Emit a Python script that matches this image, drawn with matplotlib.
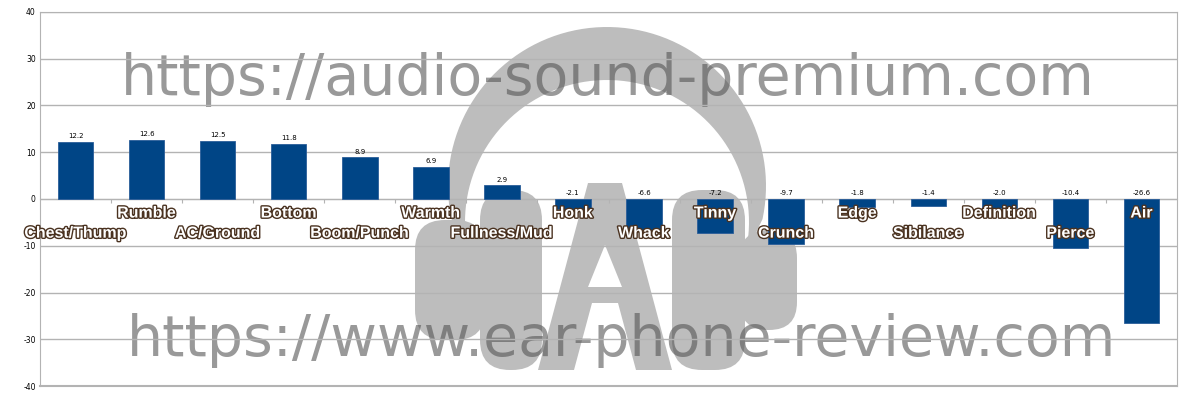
import numpy as np
import matplotlib
matplotlib.use("Agg")
import matplotlib.pyplot as plt
import matplotlib.patheffects as pe
from matplotlib.patches import FancyBboxPatch, Polygon, PathPatch
from matplotlib.path import Path

categories = ["Chest/Thump", "Rumble", "AC/Ground", "Bottom", "Boom/Punch",
              "Warmth", "Fullness/Mud", "Honk", "Whack", "Tinny", "Crunch",
              "Edge", "Sibilance", "Definition", "Pierce", "Air"]
values = [12.2, 12.6, 12.5, 11.8, 8.9, 6.9, 2.9, -2.1, -6.6, -7.2, -9.7,
          -1.8, -1.4, -2.0, -10.4, -26.6]
yticks = [-40, -30, -20, -10, 0, 10, 20, 30, 40]
watermarks = ["https://audio-sound-premium.com",
              "https://www.ear-phone-review.com"]

BAR = "#004586"
GRID = "#b3b3b3"
LOGO = "#bdbdbd"

fig = plt.figure(figsize=(12, 4), dpi=100)

# background layer: headphone logo, drawn in pixel coords
bg = fig.add_axes([0, 0, 1, 1], zorder=0)
bg.set_xlim(0, 1200)
bg.set_ylim(400, 0)
bg.axis("off")


def arc(cx, cy, r, a0, a1, n=80):
    t = np.radians(np.linspace(a0, a1, n))
    return np.column_stack([cx + r * np.cos(t), cy - r * np.sin(t)])


band = np.vstack([arc(607, 186, 159, 192, -12), arc(607, 222, 142, -14, 194)])
bg.add_patch(Polygon(band, closed=True, fc=LOGO, ec="none"))
for x0, y0, w, h, r in [(415, 220, 70, 120, 30), (480, 190, 62, 180, 30),
                        (672, 190, 73, 180, 30), (740, 230, 57, 100, 28)]:
    bg.add_patch(FancyBboxPatch((x0 + r, y0 + r), w - 2 * r, h - 2 * r,
                                boxstyle=f"round,pad={r}", fc=LOGO, ec="none"))

# the big "A" in the middle (outer outline + counter hole)
outer = [(588, 183), (622, 183), (672, 370), (636, 370), (618, 303),
         (592, 303), (574, 370), (538, 370), (588, 183)]
hole = [(605, 245), (588, 287), (622, 287), (605, 245)]
verts = outer + hole
codes = ([Path.MOVETO] + [Path.LINETO] * (len(outer) - 2) + [Path.CLOSEPOLY]
         + [Path.MOVETO] + [Path.LINETO] * (len(hole) - 2) + [Path.CLOSEPOLY])
bg.add_patch(PathPatch(Path(verts, codes), fc=LOGO, ec="none"))

# main chart on top, transparent
ax = fig.add_axes([40 / 1200, 14 / 400, 1137 / 1200, 374 / 400], zorder=2)
ax.patch.set_alpha(0)
x = np.arange(len(categories))
ax.set_xlim(-0.5, len(categories) - 0.5)
ax.set_ylim(-40, 40)
ax.set_yticks(yticks)
ax.set_yticklabels([str(v) for v in yticks], fontsize=5.5)
ax.yaxis.grid(True, color=GRID, lw=1)
ax.axhline(-40, color=GRID, lw=1.5, clip_on=False, zorder=0)
ax.set_axisbelow(True)
ax.tick_params(axis="y", length=0, pad=3)
for s in ["left", "right", "top", "bottom"]:
    ax.spines[s].set_color(GRID)
ax.spines["bottom"].set_position(("data", 0))
ax.set_xticks(x[:-1] + 0.5)
ax.set_xticklabels([])
ax.tick_params(axis="x", length=3, color=GRID, direction="out")

ax.bar(x, values, width=0.5, color=BAR, edgecolor="#2a5d99", lw=0.6,
       zorder=3)
for xi, v in zip(x, values):
    ax.annotate(f"{v:.1f}", (xi, max(v, 0)), xytext=(0, 2),
                textcoords="offset points", ha="center", va="bottom",
                fontsize=5, zorder=5)

# watermark text over the grid, behind the bars
for (px, py), s in zip([(608, 95), (622, 356)], watermarks):
    fig.text(px / 1200, 1 - py / 400, s, fontsize=41, color="#555555",
             alpha=0.6, ha="center", va="baseline", family="DejaVu Sans",
             zorder=1)

# alternating category labels, white with dark outline
outline = [pe.Stroke(linewidth=2.0, foreground="#4a3220"), pe.Normal()]
for i, name in enumerate(categories):
    y = -3.0 if i % 2 else -7.3
    ax.text(i, y, name, ha="center", va="center", fontsize=11.5,
            fontweight="bold", color="white", family="Liberation Sans",
            path_effects=outline, zorder=6)

fig.savefig("out.png", dpi=100)
